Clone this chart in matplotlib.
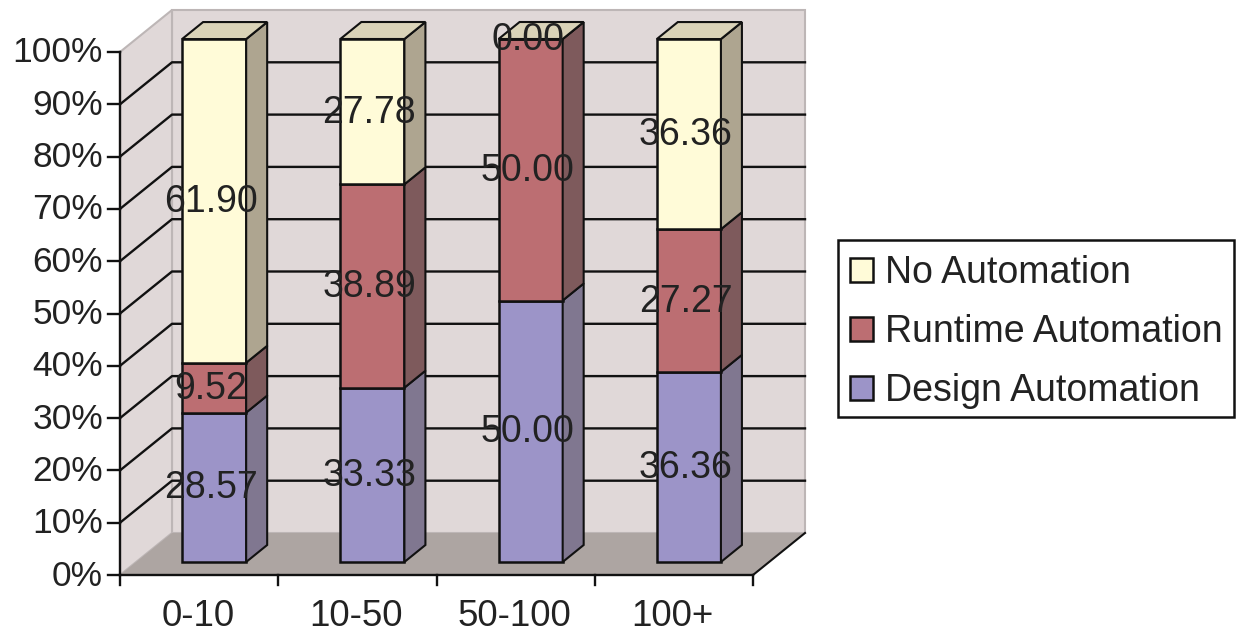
import matplotlib
matplotlib.use("Agg")
import matplotlib.pyplot as plt
from matplotlib.patches import Polygon, Rectangle

categories = ["0-10", "10-50", "50-100", "100+"]
series_names = ["Design Automation", "Runtime Automation", "No Automation"]
design = [28.57, 33.33, 50.00, 36.36]
runtime = [9.52, 38.89, 50.00, 27.27]
none_auto = [61.90, 27.78, 0.00, 36.36]
series_values = [design, runtime, none_auto]
y_ticks = list(range(0, 101, 10))

front = ["#9C94C8", "#BC6E72", "#FFFBD8"]
side = ["#807790", "#7E5A5C", "#AEA590"]
top_col = "#DAD3B8"
wall = "#E0D8D8"
floor = "#ADA5A2"
edge = "#111111"
FONT = ["Liberation Sans", "DejaVu Sans"]

W, H = 1241, 633
fig = plt.figure(figsize=(W / 100, H / 100), dpi=100, facecolor="white")
L, R, B, T = 120, 753, 575, 52
ax = fig.add_axes([L / W, 1 - B / H, (R - L) / W, (B - T) / H])
ax.set_xlim(-0.5, 3.5)
ax.set_ylim(0, 100)
ax.axis("off")
ux = (R - L) / 4      # px per category
uy = (B - T) / 100    # px per percent


def off(x, y, dx, dy):
    """Shift a data point by an oblique offset given in pixels (dy upward)."""
    return (x + dx / ux, y + dy / uy)


DX, DY = 52, 42          # full depth of the chart box
BX, BY = 15, 13          # bar front-plane offset
SX, SY = 21, 17          # bar depth
xmin, xmax = -0.5, 3.5

# walls and floor
ax.add_patch(Polygon([off(xmin, 0, DX, DY), off(xmax, 0, DX, DY), off(xmax, 100, DX, DY), off(xmin, 100, DX, DY)],
                     fc=wall, ec="#BDB6B6", lw=1.5, clip_on=False, zorder=1))
ax.add_patch(Polygon([(xmin, 0), off(xmin, 0, DX, DY), off(xmin, 100, DX, DY), (xmin, 100)],
                     fc=wall, ec="#BDB6B6", lw=1.5, clip_on=False, zorder=1))
ax.add_patch(Polygon([(xmin, 0), (xmax, 0), off(xmax, 0, DX, DY), off(xmin, 0, DX, DY)],
                     fc=floor, ec="none", clip_on=False, zorder=1))

# gridlines on the side and back walls
for v in y_ticks[1:-1]:
    p0, p1, p2 = (xmin, v), off(xmin, v, DX, DY), off(xmax, v, DX, DY)
    ax.plot([p0[0], p1[0], p2[0]], [p0[1], p1[1], p2[1]], color=edge, lw=1.7, clip_on=False, zorder=2)

# axis lines
ax.plot([xmin, xmin], [0, 100], color=edge, lw=1.7, clip_on=False, zorder=3)
ax.plot([xmin, xmax], [0, 0], color=edge, lw=1.7, clip_on=False, zorder=3)
p0, p1 = (xmax, 0), off(xmax, 0, DX, DY)
ax.plot([p0[0], p1[0]], [p0[1], p1[1]], color=edge, lw=1.5, clip_on=False, zorder=3)
for v in y_ticks:
    q = off(xmin, v, -12, 0)
    ax.plot([q[0], xmin], [v, v], color=edge, lw=1.7, clip_on=False, zorder=3)
    lab = off(xmin, v, -17, -1)
    ax.text(lab[0], lab[1], f"{v}%", ha="right", va="center", fontsize=25.5, family=FONT,
            color="#222222", clip_on=False, zorder=6)
for i in range(5):
    xt = xmin + i
    q = off(xt, 0, 0, -10)
    ax.plot([xt, xt], [0, q[1]], color=edge, lw=1.7, clip_on=False, zorder=3)
for i, c in enumerate(categories):
    q = off(i, 0, -1, -42)
    ax.text(q[0], q[1], c, ha="center", va="center", fontsize=26.5, family=FONT,
            color="#222222", clip_on=False, zorder=6)

# bars
bar_w = 0.405
for i in range(len(categories)):
    bottom = 0.0
    cx = off(i, 0, BX, 0)[0]
    x0, x1 = cx - bar_w / 2, cx + bar_w / 2
    base = BY / uy
    for s, vals in enumerate(series_values):
        v = vals[i]
        y0, y1 = bottom + base, bottom + v + base
        ax.bar(cx, v, bar_w, bottom=y0, color=front[s], edgecolor=edge, lw=1.8, clip_on=False, zorder=4)
        ax.add_patch(Polygon([(x1, y0), off(x1, y0, SX, SY), off(x1, y1, SX, SY), (x1, y1)],
                             fc=side[s], ec=edge, lw=1.5, clip_on=False, zorder=4))
        bottom += v
    yt = bottom + base
    ax.add_patch(Polygon([(x0, yt), (x1, yt), off(x1, yt, SX, SY), off(x0, yt, SX, SY)],
                         fc=top_col, ec=edge, lw=1.5, clip_on=False, zorder=4))
    bottom = 0.0
    for s, vals in enumerate(series_values):
        v = vals[i]
        yc = bottom + v / 2 + base
        q = off(cx, yc, -3, -1)
        ax.text(q[0], q[1], f"{v:.2f}", ha="center", va="center", fontsize=27, family=FONT,
                color="#222222", clip_on=False, zorder=7)
        bottom += v

# legend (frame drawn separately so the rows can sit at their reference height)
fig.add_artist(Rectangle((838 / W, 1 - 417 / H), 396 / W, 177 / H, transform=fig.transFigure,
                         fc="white", ec=edge, lw=1.8))
handles = [Rectangle((0, 0), 1, 1, fc=front[s], ec=edge, lw=1.8) for s in (2, 1, 0)]
leg = fig.legend(handles, [series_names[s] for s in (2, 1, 0)], loc="center left",
                 bbox_to_anchor=(838 / W, 1 - 332 / H), frameon=False,
                 prop={"family": FONT, "size": 27}, labelspacing=0.61, handlelength=0.61,
                 handleheight=0.61, handletextpad=0.32, borderpad=0.33, borderaxespad=0)
for t in leg.get_texts():
    t.set_color("#222222")

fig.savefig("out.png", dpi=100)
